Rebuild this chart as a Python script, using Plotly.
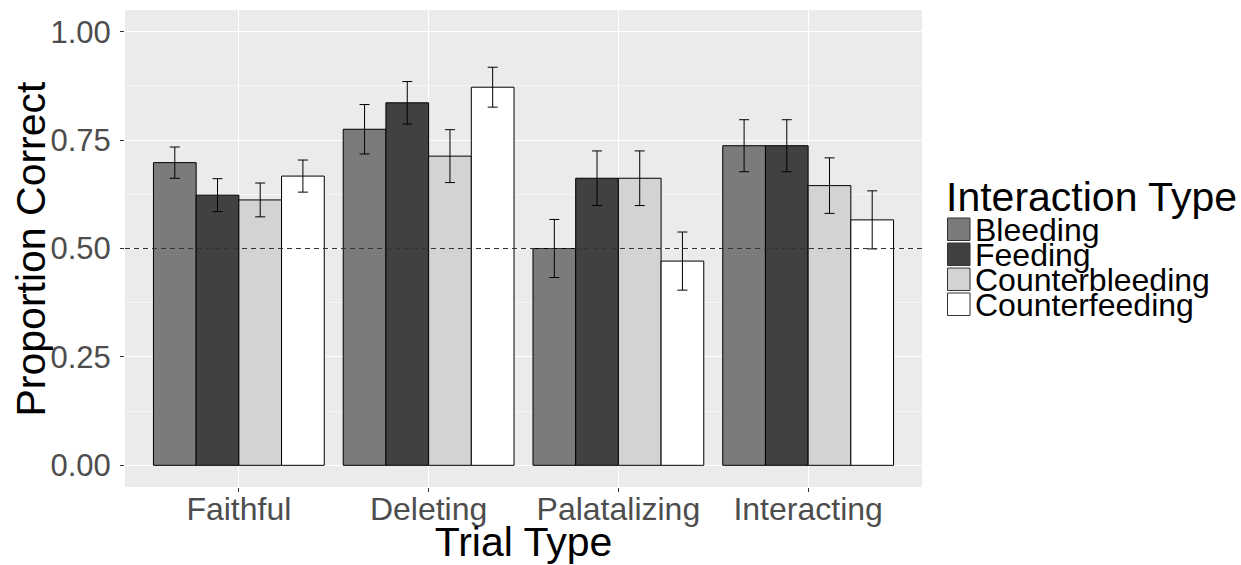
import plotly.graph_objects as go

trial_types = ["Faithful", "Deleting", "Palatalizing", "Interacting"]
interaction_types = ["Bleeding", "Feeding", "Counterbleeding", "Counterfeeding"]
fill_colors = ["#7b7b7b", "#414141", "#d3d3d3", "#ffffff"]

bleeding = [0.698, 0.775, 0.500, 0.737]
feeding = [0.623, 0.836, 0.662, 0.737]
counterbleeding = [0.612, 0.713, 0.662, 0.645]
counterfeeding = [0.667, 0.872, 0.471, 0.566]

bleeding_err = [0.036, 0.057, 0.067, 0.060]
feeding_err = [0.038, 0.049, 0.063, 0.060]
counterbleeding_err = [0.039, 0.061, 0.063, 0.064]
counterfeeding_err = [0.037, 0.046, 0.067, 0.067]

series = [bleeding, feeding, counterbleeding, counterfeeding]
errors = [bleeding_err, feeding_err, counterbleeding_err, counterfeeding_err]

y_ticks = [0.0, 0.25, 0.5, 0.75, 1.0]
y_tick_labels = ["0.00", "0.25", "0.50", "0.75", "1.00"]
chance_level = 0.5

FONT = "Liberation Sans, Arial, sans-serif"
W, H = 1241, 565
ML, MR, MT, MB = 125, 319, 10, 78
PW, PH = W - ML - MR, H - MT - MB


def px_x(px):
    return (px - ML) / PW


def px_y(py):
    return (H - MB - py) / PH


fig = go.Figure()
for name, vals, errs, col in zip(interaction_types, series, errors, fill_colors):
    fig.add_trace(go.Bar(
        x=trial_types, y=vals, name=name, showlegend=False,
        marker=dict(color=col, line=dict(color="#000000", width=1)),
        error_y=dict(type="data", array=errs, visible=True,
                     color="#000000", thickness=1, width=5),
    ))

# y-axis title placed as in the reference
annotations = [dict(
    text="Proportion Correct", xref="paper", yref="paper",
    x=px_x(30), y=0.5, xanchor="center", yanchor="middle", textangle=-90,
    showarrow=False, font=dict(size=41, family=FONT, color="#000000"),
)]

# custom legend (ggplot style, tightly packed keys)
annotations.append(dict(
    text="Interaction Type", xref="paper", yref="paper",
    x=px_x(944), y=px_y(197), xanchor="left", yanchor="middle",
    showarrow=False, font=dict(size=41, family=FONT, color="#000000"),
))
key_top0, key_pitch, key_size = 218, 25, 22.5
for i, name in enumerate(interaction_types):
    top = key_top0 + i * key_pitch
    annotations.append(dict(
        text=name, xref="paper", yref="paper",
        x=px_x(973), y=px_y(top + key_size / 2 + 1), xanchor="left", yanchor="middle",
        showarrow=False, font=dict(size=32, family=FONT, color="#000000"),
    ))

fig.update_layout(
    width=W, height=H,
    margin=dict(l=ML, r=MR, t=MT, b=MB, autoexpand=False),
    paper_bgcolor="#ffffff", plot_bgcolor="#ebebeb",
    barmode="group", bargap=0.1, bargroupgap=0,
    font=dict(family=FONT, color="#000000"),
    showlegend=False,
    annotations=annotations,
)

for i, col in enumerate(fill_colors):
    top = key_top0 + i * key_pitch
    fig.add_shape(
        type="rect", xref="paper", yref="paper",
        x0=px_x(947.5), x1=px_x(947.5 + key_size),
        y0=px_y(top), y1=px_y(top + key_size),
        fillcolor=col, line=dict(color="#333333", width=1), layer="above",
    )

fig.add_hline(y=chance_level, line=dict(color="#333333", width=1, dash="5px,4px"))

fig.update_xaxes(
    range=[-0.6, 3.6], showgrid=True, gridcolor="#ffffff", gridwidth=1.3,
    ticks="outside", ticklen=4, tickcolor="#333333", tickwidth=1,
    ticklabelstandoff=-10,
    tickfont=dict(size=32, color="#4d4d4d", family=FONT),
    title=dict(text="Trial Type", font=dict(size=41, color="#000000", family=FONT), standoff=14),
    zeroline=False, showline=False,
)
fig.update_yaxes(
    range=[-0.05, 1.05], tickvals=y_ticks, ticktext=y_tick_labels,
    showgrid=True, gridcolor="#ffffff", gridwidth=1.3,
    minor=dict(dtick=0.125, tick0=0.125, showgrid=True, gridcolor="#f5f5f5", gridwidth=0.6),
    ticks="outside", ticklen=4, tickcolor="#333333", tickwidth=1,
    ticklabelstandoff=3,
    tickfont=dict(size=31, color="#4d4d4d", family=FONT),
    zeroline=False, showline=False,
)

fig.write_html("out.html")
